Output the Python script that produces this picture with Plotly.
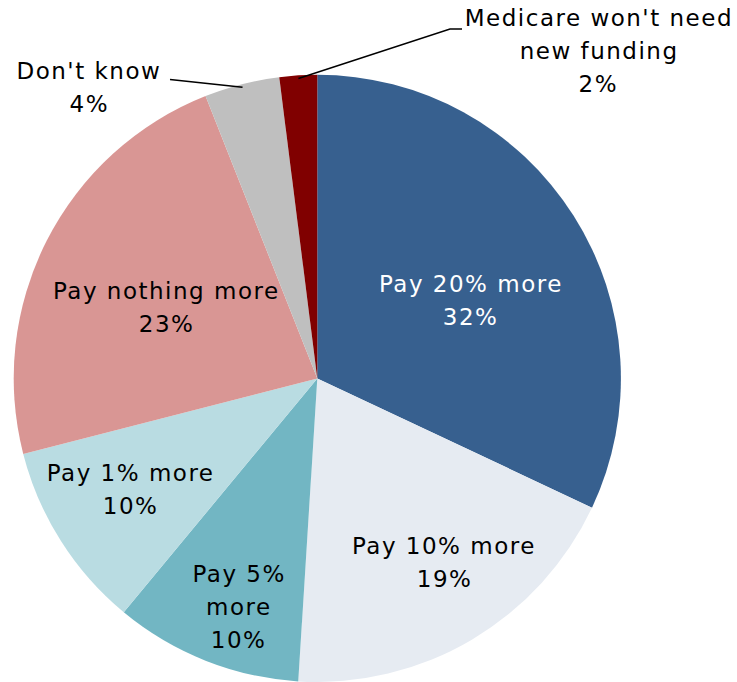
import math
import plotly.graph_objects as go

# Survey answers, clockwise from 12 o'clock
categories = [
    "Pay 20% more",
    "Pay 10% more",
    "Pay 5%<br>more",
    "Pay 1% more",
    "Pay nothing more",
    "Don't know",
    "Medicare won't need<br>new funding",
]
shares = [32, 19, 10, 10, 23, 4, 2]

slice_colors = ["#37608F", "#E6EBF2", "#72B6C3", "#B9DCE2", "#D99694", "#BFBFBF", "#800000"]
text_colors = ["white", "black", "black", "black", "black", "black", "black"]

W, H = 737, 682
CX, CY, R = 317.3, 378.4, 303.6  # pie centre and radius in pixels
FONT = "DejaVu Sans, Verdana, sans-serif"
FONT_SIZE = 23
LINE_PX = 33

# label block centres, pixel offsets from the pie centre
label_offsets = [
    (153.2, -77.9),
    (126.7, 183.6),
    (-78.8, 228.6),
    (-186.8, 110.6),
    (-150.8, -70.9),
    (-228.3, -290.9),
    (281.2, -327.4),
]
# leader lines for the two thin outer slices: (slice index, pixel points after the edge point)
leaders = {
    5: [(170, 79.5)],
    6: [(450, 29), (462, 29)],
}


def px_to_paper(x, y):
    return x / W, 1 - y / H


fig = go.Figure(
    go.Pie(
        values=shares,
        labels=[c.replace("<br>", " ") for c in categories],
        sort=False,
        direction="clockwise",
        rotation=0,
        marker=dict(colors=slice_colors, line=dict(width=0)),
        textinfo="none",
        hoverinfo="label+percent",
        domain=dict(
            x=[(CX - R) / W, (CX + R) / W],
            y=[0, 2 * (H - CY) / H],
        ),
        showlegend=False,
    )
)

total = sum(shares)
annotations = []
shapes = []
start = 0.0
for i, (name, val) in enumerate(zip(categories, shares)):
    mid = (start + val / 2) / total * 2 * math.pi
    start += val
    lines = name.split("<br>") + [f"{val}%"]
    ox, oy = label_offsets[i]
    n = len(lines)
    for j, line in enumerate(lines):
        ly = CY + oy + (j - (n - 1) / 2) * LINE_PX
        xp, yp = px_to_paper(CX + ox, ly)
        annotations.append(
            dict(
                x=xp, y=yp, xref="paper", yref="paper",
                text=line, showarrow=False,
                xanchor="center", yanchor="middle",
                font=dict(family=FONT, size=FONT_SIZE, color=text_colors[i]),
            )
        )
    if i in leaders:
        ex = CX + 0.99 * R * math.sin(mid)
        ey = CY - 0.99 * R * math.cos(mid)
        pts = [(ex, ey)] + leaders[i]
        path = " ".join(
            ("M" if k == 0 else "L") + " {:.5f},{:.5f}".format(*px_to_paper(px, py))
            for k, (px, py) in enumerate(pts)
        )
        shapes.append(
            dict(type="path", path=path, xref="paper", yref="paper",
                 line=dict(color="black", width=1.5))
        )

fig.update_layout(
    width=W,
    height=H,
    margin=dict(l=0, r=0, t=0, b=0),
    paper_bgcolor="white",
    plot_bgcolor="white",
    annotations=annotations,
    shapes=shapes,
)

fig.write_html(
    "out.html",
    post_script="document.querySelectorAll('.annotation-text').forEach(function(t){t.style.letterSpacing='1.5px';});",
)
